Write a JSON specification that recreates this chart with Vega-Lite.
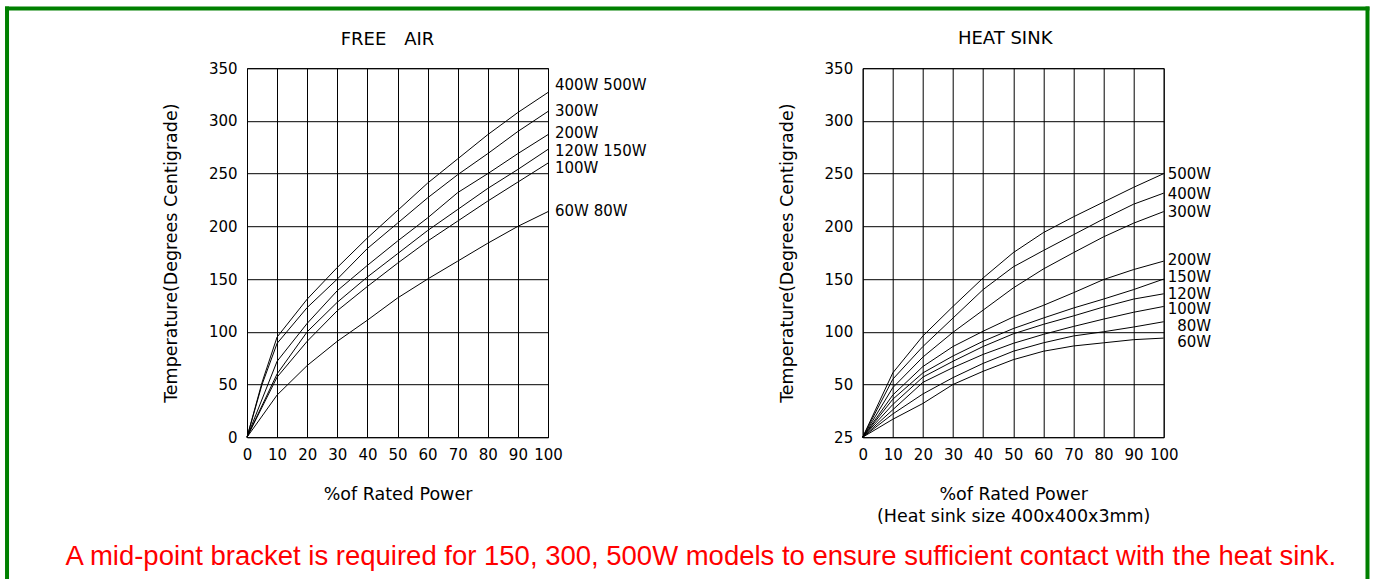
{
  "$schema": "https://vega.github.io/schema/vega-lite/v6.json",
  "padding": {"left": 2, "top": 3.2, "right": 0, "bottom": 0},
  "background": "white",
  "datasets": {
    "free": [
      {"s": "400W 500W", "p": 0, "t": 0}, {"s": "400W 500W", "p": 5, "t": 52}, {"s": "400W 500W", "p": 10, "t": 95}, {"s": "400W 500W", "p": 20, "t": 131}, {"s": "400W 500W", "p": 30, "t": 161}, {"s": "400W 500W", "p": 40, "t": 189}, {"s": "400W 500W", "p": 50, "t": 215}, {"s": "400W 500W", "p": 60, "t": 241}, {"s": "400W 500W", "p": 70, "t": 264}, {"s": "400W 500W", "p": 80, "t": 287}, {"s": "400W 500W", "p": 90, "t": 308}, {"s": "400W 500W", "p": 100, "t": 327},
      {"s": "300W", "p": 0, "t": 0}, {"s": "300W", "p": 5, "t": 50}, {"s": "300W", "p": 10, "t": 89}, {"s": "300W", "p": 20, "t": 123}, {"s": "300W", "p": 30, "t": 150}, {"s": "300W", "p": 40, "t": 179}, {"s": "300W", "p": 50, "t": 203}, {"s": "300W", "p": 60, "t": 227}, {"s": "300W", "p": 70, "t": 249}, {"s": "300W", "p": 80, "t": 269}, {"s": "300W", "p": 90, "t": 290}, {"s": "300W", "p": 100, "t": 309},
      {"s": "200W", "p": 0, "t": 0}, {"s": "200W", "p": 10, "t": 72}, {"s": "200W", "p": 20, "t": 108}, {"s": "200W", "p": 30, "t": 139}, {"s": "200W", "p": 40, "t": 163}, {"s": "200W", "p": 50, "t": 186}, {"s": "200W", "p": 60, "t": 208}, {"s": "200W", "p": 70, "t": 232}, {"s": "200W", "p": 80, "t": 250}, {"s": "200W", "p": 90, "t": 269}, {"s": "200W", "p": 100, "t": 287},
      {"s": "120W 150W", "p": 0, "t": 0}, {"s": "120W 150W", "p": 10, "t": 60}, {"s": "120W 150W", "p": 20, "t": 100}, {"s": "120W 150W", "p": 30, "t": 128}, {"s": "120W 150W", "p": 40, "t": 152}, {"s": "120W 150W", "p": 50, "t": 174}, {"s": "120W 150W", "p": 60, "t": 196}, {"s": "120W 150W", "p": 70, "t": 216}, {"s": "120W 150W", "p": 80, "t": 236}, {"s": "120W 150W", "p": 90, "t": 254}, {"s": "120W 150W", "p": 100, "t": 273},
      {"s": "100W", "p": 0, "t": 0}, {"s": "100W", "p": 10, "t": 57}, {"s": "100W", "p": 20, "t": 91}, {"s": "100W", "p": 30, "t": 120}, {"s": "100W", "p": 40, "t": 143}, {"s": "100W", "p": 50, "t": 165}, {"s": "100W", "p": 60, "t": 186}, {"s": "100W", "p": 70, "t": 205}, {"s": "100W", "p": 80, "t": 224}, {"s": "100W", "p": 90, "t": 242}, {"s": "100W", "p": 100, "t": 260},
      {"s": "60W 80W", "p": 0, "t": 0}, {"s": "60W 80W", "p": 10, "t": 40}, {"s": "60W 80W", "p": 20, "t": 68}, {"s": "60W 80W", "p": 30, "t": 91}, {"s": "60W 80W", "p": 40, "t": 111}, {"s": "60W 80W", "p": 50, "t": 132}, {"s": "60W 80W", "p": 60, "t": 150}, {"s": "60W 80W", "p": 70, "t": 167}, {"s": "60W 80W", "p": 80, "t": 184}, {"s": "60W 80W", "p": 90, "t": 200}, {"s": "60W 80W", "p": 100, "t": 214}
    ],
    "freeLabels": [
      {"label": "400W 500W", "t": 333.9},
      {"label": "300W", "t": 309.5},
      {"label": "200W", "t": 288.3},
      {"label": "120W 150W", "t": 271.6},
      {"label": "100W", "t": 255.4},
      {"label": "60W 80W", "t": 214.2}
    ],
    "sink": [
      {"s": "500W", "p": 0, "t": 25}, {"s": "500W", "p": 10, "t": 61}, {"s": "500W", "p": 20, "t": 96}, {"s": "500W", "p": 30, "t": 124}, {"s": "500W", "p": 40, "t": 151}, {"s": "500W", "p": 50, "t": 175}, {"s": "500W", "p": 60, "t": 194}, {"s": "500W", "p": 70, "t": 209}, {"s": "500W", "p": 80, "t": 223}, {"s": "500W", "p": 90, "t": 237}, {"s": "500W", "p": 100, "t": 250},
      {"s": "400W", "p": 0, "t": 25}, {"s": "400W", "p": 10, "t": 55}, {"s": "400W", "p": 20, "t": 86}, {"s": "400W", "p": 30, "t": 113}, {"s": "400W", "p": 40, "t": 140}, {"s": "400W", "p": 50, "t": 161.5}, {"s": "400W", "p": 60, "t": 177}, {"s": "400W", "p": 70, "t": 192}, {"s": "400W", "p": 80, "t": 207}, {"s": "400W", "p": 90, "t": 221}, {"s": "400W", "p": 100, "t": 231.5},
      {"s": "300W", "p": 0, "t": 25}, {"s": "300W", "p": 10, "t": 48.5}, {"s": "300W", "p": 20, "t": 76}, {"s": "300W", "p": 30, "t": 99.5}, {"s": "300W", "p": 40, "t": 120.5}, {"s": "300W", "p": 50, "t": 141.5}, {"s": "300W", "p": 60, "t": 159.5}, {"s": "300W", "p": 70, "t": 175}, {"s": "300W", "p": 80, "t": 190}, {"s": "300W", "p": 90, "t": 203}, {"s": "300W", "p": 100, "t": 214},
      {"s": "200W", "p": 0, "t": 25}, {"s": "200W", "p": 10, "t": 45}, {"s": "200W", "p": 20, "t": 67}, {"s": "200W", "p": 30, "t": 86}, {"s": "200W", "p": 40, "t": 100.5}, {"s": "200W", "p": 50, "t": 114}, {"s": "200W", "p": 60, "t": 125}, {"s": "200W", "p": 70, "t": 137}, {"s": "200W", "p": 80, "t": 149.5}, {"s": "200W", "p": 90, "t": 159}, {"s": "200W", "p": 100, "t": 167},
      {"s": "150W", "p": 0, "t": 25}, {"s": "150W", "p": 10, "t": 43}, {"s": "150W", "p": 20, "t": 61}, {"s": "150W", "p": 30, "t": 77}, {"s": "150W", "p": 40, "t": 91}, {"s": "150W", "p": 50, "t": 103}, {"s": "150W", "p": 60, "t": 113}, {"s": "150W", "p": 70, "t": 122.5}, {"s": "150W", "p": 80, "t": 131}, {"s": "150W", "p": 90, "t": 140}, {"s": "150W", "p": 100, "t": 150},
      {"s": "120W", "p": 0, "t": 25}, {"s": "120W", "p": 10, "t": 40.5}, {"s": "120W", "p": 20, "t": 57}, {"s": "120W", "p": 30, "t": 72}, {"s": "120W", "p": 40, "t": 86}, {"s": "120W", "p": 50, "t": 98}, {"s": "120W", "p": 60, "t": 107}, {"s": "120W", "p": 70, "t": 115}, {"s": "120W", "p": 80, "t": 123.5}, {"s": "120W", "p": 90, "t": 131}, {"s": "120W", "p": 100, "t": 136},
      {"s": "100W", "p": 0, "t": 25}, {"s": "100W", "p": 10, "t": 38}, {"s": "100W", "p": 20, "t": 52}, {"s": "100W", "p": 30, "t": 66}, {"s": "100W", "p": 40, "t": 78.5}, {"s": "100W", "p": 50, "t": 89}, {"s": "100W", "p": 60, "t": 97.5}, {"s": "100W", "p": 70, "t": 105}, {"s": "100W", "p": 80, "t": 112}, {"s": "100W", "p": 90, "t": 118.5}, {"s": "100W", "p": 100, "t": 124},
      {"s": "80W", "p": 0, "t": 25}, {"s": "80W", "p": 10, "t": 36}, {"s": "80W", "p": 20, "t": 45.5}, {"s": "80W", "p": 30, "t": 56.5}, {"s": "80W", "p": 40, "t": 70}, {"s": "80W", "p": 50, "t": 81.5}, {"s": "80W", "p": 60, "t": 89.5}, {"s": "80W", "p": 70, "t": 96}, {"s": "80W", "p": 80, "t": 100}, {"s": "80W", "p": 90, "t": 104.5}, {"s": "80W", "p": 100, "t": 109.5},
      {"s": "60W", "p": 0, "t": 25}, {"s": "60W", "p": 10, "t": 33.5}, {"s": "60W", "p": 20, "t": 41}, {"s": "60W", "p": 30, "t": 50}, {"s": "60W", "p": 40, "t": 62.5}, {"s": "60W", "p": 50, "t": 73.5}, {"s": "60W", "p": 60, "t": 81.5}, {"s": "60W", "p": 70, "t": 86.5}, {"s": "60W", "p": 80, "t": 89.5}, {"s": "60W", "p": 90, "t": 92.5}, {"s": "60W", "p": 100, "t": 94}
    ],
    "sinkLabels": [
      {"label": "500W", "t": 249.8},
      {"label": "400W", "t": 230.8},
      {"label": "300W", "t": 213.7},
      {"label": "200W", "t": 167.7},
      {"label": "150W", "t": 152.1},
      {"label": "120W", "t": 135.9},
      {"label": "100W", "t": 121.2},
      {"label": "80W", "t": 105.1},
      {"label": "60W", "t": 90.5}
    ]
  },
  "title": {
    "text": "A mid-point bracket is required for 150, 300, 500W models to ensure sufficient contact with the heat sink.",
    "orient": "bottom",
    "anchor": "middle",
    "color": "#ff0000",
    "font": "Liberation Sans",
    "fontSize": 27.5,
    "fontWeight": "normal",
    "offset": -42,
    "dx": 13.5
  },
  "bounds": "flush",
  "spacing": 314.7,
  "hconcat": [
    {
      "width": 301,
      "height": 369,
      "title": {"text": "FREE\u2003AIR", "frame": "group", "offset": -44, "dx": -10},
      "layer": [
        {
          "data": {"name": "free"},
          "mark": {"type": "line", "color": "black", "strokeWidth": 1},
          "encoding": {
            "x": {"field": "p", "type": "quantitative", "scale": {"domain": [0, 100], "nice": false, "zero": false}, "axis": {"values": [0, 10, 20, 30, 40, 50, 60, 70, 80, 90, 100], "title": "%of Rated Power"}},
            "y": {"field": "t", "type": "quantitative", "scale": {"domain": [0, 350], "nice": false}, "axis": {"values": [0, 50, 100, 150, 200, 250, 300, 350], "title": "Temperature(Degrees Centigrade)"}},
            "detail": {"field": "s", "type": "nominal"}
          }
        },
        {
          "data": {"name": "freeLabels"},
          "mark": {"type": "text", "align": "left", "baseline": "middle", "dx": 7, "fontSize": 15, "color": "black"},
          "encoding": {
            "x": {"datum": 100, "type": "quantitative", "axis": {"values": [0, 10, 20, 30, 40, 50, 60, 70, 80, 90, 100], "title": "%of Rated Power"}},
            "y": {"field": "t", "type": "quantitative"},
            "text": {"field": "label", "type": "nominal"}
          }
        },
        {
          "data": {"values": [{}]},
          "mark": {"type": "rule", "color": "#008000", "strokeWidth": 4},
          "encoding": {
            "x": {"datum": -80.4, "type": "quantitative", "axis": {"values": [0, 10, 20, 30, 40, 50, 60, 70, 80, 90, 100], "title": "%of Rated Power"}},
            "x2": {"datum": 372.92},
            "y": {"datum": 406.53, "type": "quantitative", "axis": {"values": [0, 50, 100, 150, 200, 250, 300, 350], "title": "Temperature(Degrees Centigrade)"}}
          }
        },
        {
          "data": {"values": [{}]},
          "mark": {"type": "rule", "color": "#008000", "strokeWidth": 4},
          "encoding": {
            "x": {"datum": -79.73, "type": "quantitative", "axis": {"values": [0, 10, 20, 30, 40, 50, 60, 70, 80, 90, 100], "title": "%of Rated Power"}},
            "y": {"datum": 408.43, "type": "quantitative", "axis": {"values": [0, 50, 100, 150, 200, 250, 300, 350], "title": "Temperature(Degrees Centigrade)"}},
            "y2": {"datum": -137.5}
          }
        },
        {
          "data": {"values": [{}]},
          "mark": {"type": "rule", "color": "#008000", "strokeWidth": 4},
          "encoding": {
            "x": {"datum": 372.26, "type": "quantitative", "axis": {"values": [0, 10, 20, 30, 40, 50, 60, 70, 80, 90, 100], "title": "%of Rated Power"}},
            "y": {"datum": 408.43, "type": "quantitative", "axis": {"values": [0, 50, 100, 150, 200, 250, 300, 350], "title": "Temperature(Degrees Centigrade)"}},
            "y2": {"datum": -137.5}
          }
        }
      ]
    },
    {
      "width": 301,
      "height": 369,
      "title": {"text": "HEAT SINK", "frame": "group", "offset": 13, "dx": -8},
      "layer": [
        {
          "data": {"name": "sink"},
          "mark": {"type": "line", "color": "black", "strokeWidth": 1},
          "encoding": {
            "x": {"field": "p", "type": "quantitative", "scale": {"domain": [0, 100], "nice": false, "zero": false}, "axis": {"values": [0, 10, 20, 30, 40, 50, 60, 70, 80, 90, 100], "title": ["%of Rated Power", "(Heat sink size 400x400x3mm)"]}},
            "y": {"field": "t", "type": "quantitative", "scale": {"domain": [25, 50, 350], "range": [369, 316.286, 0], "nice": false, "zero": false}, "axis": {"values": [25, 50, 100, 150, 200, 250, 300, 350], "title": "Temperature(Degrees Centigrade)"}},
            "detail": {"field": "s", "type": "nominal"}
          }
        },
        {
          "data": {"name": "sinkLabels"},
          "mark": {"type": "text", "align": "right", "baseline": "middle", "dx": 47.5, "fontSize": 15, "color": "black"},
          "encoding": {
            "x": {"datum": 100, "type": "quantitative", "axis": {"values": [0, 10, 20, 30, 40, 50, 60, 70, 80, 90, 100], "title": ["%of Rated Power", "(Heat sink size 400x400x3mm)"]}},
            "y": {"field": "t", "type": "quantitative"},
            "text": {"field": "label", "type": "nominal"}
          }
        }
      ]
    }
  ],
  "config": {
    "font": "DejaVu Sans",
    "view": {"stroke": "black", "strokeWidth": 1},
    "axis": {
      "domain": false,
      "ticks": false,
      "grid": true,
      "gridColor": "black",
      "gridOpacity": 1,
      "gridWidth": 1,
      "labelFont": "DejaVu Sans",
      "labelFontSize": 15,
      "labelColor": "black",
      "labelFlush": false,
      "labelOverlap": false,
      "titleFont": "DejaVu Sans",
      "titleFontSize": 17.5,
      "titleFontWeight": "normal",
      "titleColor": "black",
      "titleLineHeight": 22
    },
    "axisX": {"labelPadding": 10.5, "titlePadding": 23},
    "axisY": {"labelPadding": 10, "titlePadding": 28},
    "title": {"font": "DejaVu Sans", "fontSize": 18, "fontWeight": "normal", "color": "black", "offset": 23}
  }
}
